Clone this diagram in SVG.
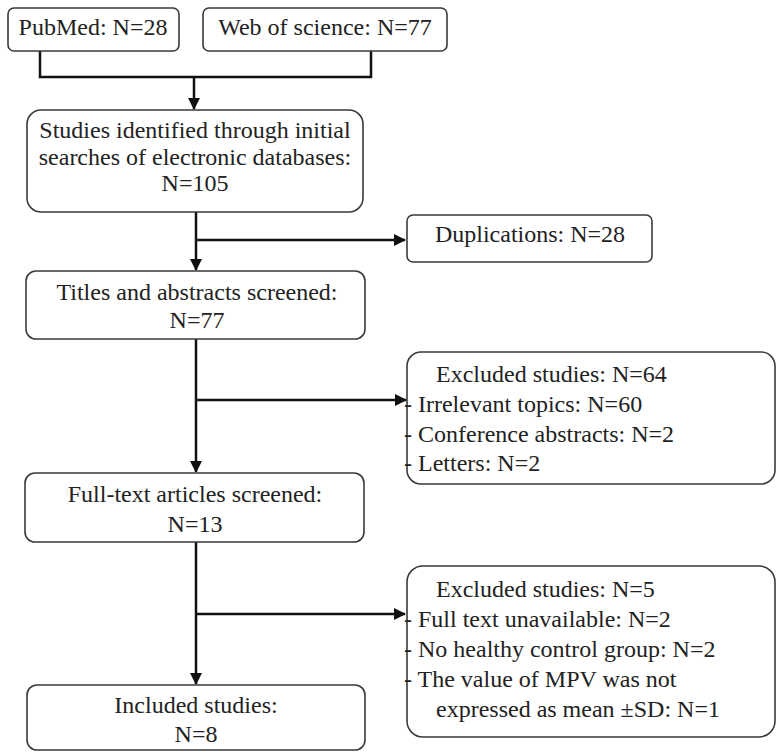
<svg xmlns="http://www.w3.org/2000/svg" width="776" height="752" viewBox="0 0 776 752">
<style>
.box{fill:#fff;stroke:#3a3a3a;stroke-width:1.6}
.t{font-family:'Liberation Serif','Times New Roman',serif;font-size:24px;fill:#222}
.c{text-anchor:middle}
.ln{fill:none;stroke:#111;stroke-width:2.5}
</style>
<defs>
<marker id="ah" markerWidth="12" markerHeight="12" refX="11" refY="6" orient="auto" markerUnits="userSpaceOnUse">
<path d="M0,0 L12,6 L0,12 Z" fill="#111"/>
</marker>
</defs>
<rect width="776" height="752" fill="#fff"/>
<g id="connectors">
<path class="ln" d="M40,51 V77 H371 V51"/>
<path class="ln" d="M194,77 V109" marker-end="url(#ah)"/>
<path class="ln" d="M196,212 V270" marker-end="url(#ah)"/>
<path class="ln" d="M196,240 H405" marker-end="url(#ah)"/>
<path class="ln" d="M196,339 V472" marker-end="url(#ah)"/>
<path class="ln" d="M196,400 H406" marker-end="url(#ah)"/>
<path class="ln" d="M196,542 V684" marker-end="url(#ah)"/>
<path class="ln" d="M196,614 H405" marker-end="url(#ah)"/>
</g>
<g id="pubmed">
<rect class="box" x="8" y="8" width="171" height="43" rx="6"/>
<text class="t c" x="93" y="35">PubMed: N=28</text>
</g>
<g id="wos">
<rect class="box" x="203" y="8" width="244" height="43" rx="6"/>
<text class="t c" x="325" y="35">Web of science: N=77</text>
</g>
<g id="identified">
<rect class="box" x="27" y="110" width="336" height="102" rx="14"/>
<text class="t c" x="195" y="138">Studies identified through initial</text>
<text class="t c" x="195" y="165">searches of electronic databases:</text>
<text class="t c" x="195" y="191">N=105</text>
</g>
<g id="duplications">
<rect class="box" x="407" y="215" width="245" height="47" rx="6"/>
<text class="t c" x="530" y="242">Duplications: N=28</text>
</g>
<g id="titles">
<rect class="box" x="26" y="271" width="339" height="68" rx="10"/>
<text class="t c" x="197" y="300">Titles and abstracts screened:</text>
<text class="t c" x="197" y="328">N=77</text>
</g>
<g id="excluded1">
<rect class="box" x="407" y="352" width="368" height="132" rx="14"/>
<text class="t" x="436" y="382">Excluded studies: N=64</text>
<text class="t" x="404" y="412">- Irrelevant topics: N=60</text>
<text class="t" x="404" y="442">- Conference abstracts: N=2</text>
<text class="t" x="404" y="471">- Letters: N=2</text>
</g>
<g id="fulltext">
<rect class="box" x="25" y="473" width="339" height="69" rx="10"/>
<text class="t c" x="195" y="502">Full-text articles screened:</text>
<text class="t c" x="195" y="532">N=13</text>
</g>
<g id="excluded2">
<rect class="box" x="407" y="566" width="368" height="171" rx="16"/>
<text class="t" x="436" y="597">Excluded studies: N=5</text>
<text class="t" x="404" y="627">- Full text unavailable: N=2</text>
<text class="t" x="404" y="657">- No healthy control group: N=2</text>
<text class="t" x="404" y="687">- The value of MPV was not</text>
<text class="t" x="436" y="717">expressed as mean ±SD: N=1</text>
</g>
<g id="included">
<rect class="box" x="27" y="685" width="338" height="65" rx="10"/>
<text class="t c" x="196" y="713">Included studies:</text>
<text class="t c" x="196" y="742">N=8</text>
</g>
</svg>
